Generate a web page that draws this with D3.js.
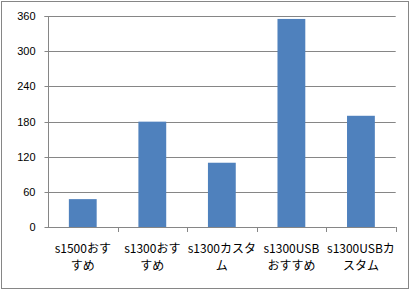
<!DOCTYPE html>
<html>
<head>
<meta charset="utf-8">
<script src="https://cdn.jsdelivr.net/npm/d3@7"></script>
<style>
  body { margin: 0; background: #fff; }
  svg text { font-family: "Noto Sans CJK JP", "DejaVu Sans", sans-serif; font-size: 12px; fill: #000; }
</style>
</head>
<body>
<div id="chart"></div>
<script>
// chart data
const categories = [["s1500おす", "すめ"], ["s1300おす", "すめ"], ["s1300カスタ", "ム"], ["s1300USB", "おすすめ"], ["s1300USBカ", "スタム"]];
const values = [48, 180, 110, 355, 190];
const yTicks = [0, 60, 120, 180, 240, 300, 360];

const width = 412, height = 291;
const plotLeft = 48, plotRight = 395.7, plotTop = 16, plotBottom = 227.3;

const svg = d3.select("#chart").append("svg")
  .attr("width", width)
  .attr("height", height);

svg.append("rect")
  .attr("x", 1.5).attr("y", 1.5)
  .attr("width", 407).attr("height", 287)
  .attr("fill", "#fff")
  .attr("stroke", "#868686");

const keys = categories.map((c, i) => i);

const x = d3.scaleBand().domain(keys).range([plotLeft, plotRight]).paddingInner(0.6).paddingOuter(0.3);
const xTick = d3.scaleBand().domain(keys).range([plotLeft, plotRight]).padding(0);
const y = d3.scaleLinear().domain([0, 360]).range([plotBottom, plotTop]);

// gridlines
svg.append("g").selectAll("line")
  .data(yTicks.filter(d => d > 0))
  .join("line")
  .attr("x1", plotLeft).attr("x2", plotRight)
  .attr("y1", d => Math.round(y(d)) + 0.5).attr("y2", d => Math.round(y(d)) + 0.5)
  .attr("stroke", "#868686");

// bars
svg.append("g").selectAll("rect")
  .data(values)
  .join("rect")
  .attr("x", (d, i) => x(i))
  .attr("y", d => y(d))
  .attr("width", x.bandwidth())
  .attr("height", d => y(0) - y(d))
  .attr("fill", "#4F81BD");

// y axis
const yAxis = svg.append("g")
  .attr("transform", `translate(${Math.round(plotLeft) + 0.5},0)`)
  .call(d3.axisLeft(y).tickValues(yTicks).tickSize(4).tickPadding(9));
yAxis.selectAll("line, path").attr("stroke", "#868686");
yAxis.select("path").attr("d", `M-4,${Math.round(plotTop) + 0.5}H0V${Math.round(plotBottom) + 0.5}`);
yAxis.selectAll(".tick").attr("transform", d => `translate(0,${Math.round(y(d)) + 0.5})`);
yAxis.selectAll("text").style("font-family", '"Liberation Sans", Arial, sans-serif').style("font-size", "11px").attr("fill", "#000");

// x axis line and ticks on category boundaries
const xg = svg.append("g");
xg.append("line")
  .attr("x1", plotLeft).attr("x2", plotRight)
  .attr("y1", Math.round(plotBottom) + 0.5).attr("y2", Math.round(plotBottom) + 0.5)
  .attr("stroke", "#868686");
xg.selectAll("line.tk")
  .data(keys)
  .join("line")
  .attr("class", "tk")
  .attr("x1", d => Math.round(xTick(d) + xTick.bandwidth()) + 0.5)
  .attr("x2", d => Math.round(xTick(d) + xTick.bandwidth()) + 0.5)
  .attr("y1", Math.round(plotBottom)).attr("y2", Math.round(plotBottom) + 5)
  .attr("stroke", "#868686");

// category labels
const labels = svg.append("g").selectAll("text")
  .data(categories)
  .join("text")
  .attr("text-anchor", "middle")
  .attr("x", (d, i) => xTick(i) + xTick.bandwidth() / 2)
  .attr("y", 253);
labels.selectAll("tspan")
  .data(d => d)
  .join("tspan")
  .attr("x", function() { return d3.select(this.parentNode).attr("x"); })
  .attr("dy", (d, i) => i === 0 ? 0 : 17)
  .text(d => d);
</script>
</body>
</html>
